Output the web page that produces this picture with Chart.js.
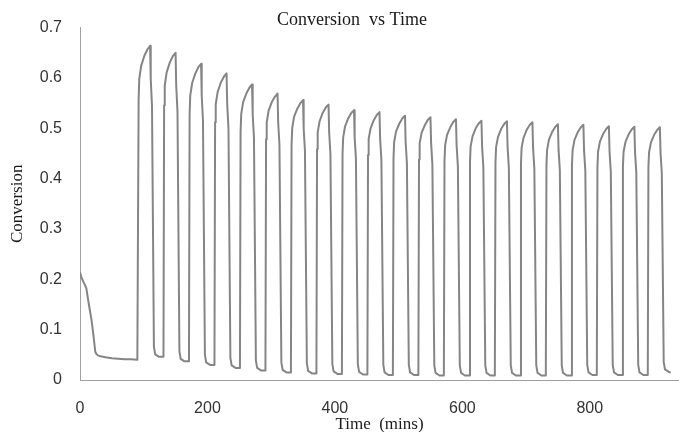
<!DOCTYPE html>
<html>
<head>
<meta charset="utf-8">
<title>Conversion vs Time</title>
<script src="https://cdn.jsdelivr.net/npm/chart.js@4.4.1/dist/chart.umd.min.js"></script>
<style>
  html, body { margin: 0; padding: 0; background: #fff; }
  #wrap { width: 679px; height: 432px; }
</style>
</head>
<body>
<div id="wrap"><canvas id="chart" width="679" height="432"></canvas></div>
<script>
// values
const chartTitle = 'Conversion  vs Time';
const xTitle = 'Time  (mins)';
const yTitle = 'Conversion';

const xTickLabels = ['0', '200', '400', '600', '800'];
const yTickLabels = ['0', '0.1', '0.2', '0.3', '0.4', '0.5', '0.6', '0.7'];

const timeMins = [
  0, 2, 5, 8, 10, 12, 15, 18, 21, 24, 26, 28, 32, 40, 50, 60, 70, 80, 90,
  91, 92, 93, 96, 101, 106, 110, 111, 113, 116, 118, 124,
  131, 132, 133, 136, 141, 146, 150, 151, 153, 156, 158, 164,
  171, 172, 173, 176, 181, 186, 190, 191, 193, 196, 198, 204,
  211, 212, 213, 216, 221, 226, 230, 231, 233, 236, 238, 244,
  251, 252, 253, 256, 261, 266, 270, 271, 273, 276, 278, 284,
  291, 292, 293, 296, 301, 306, 310, 311, 313, 316, 318, 324,
  331, 332, 333, 336, 341, 346, 350, 351, 353, 356, 358, 364,
  371, 372, 373, 376, 381, 386, 390, 391, 393, 396, 398, 404,
  411, 412, 413, 416, 421, 426, 430, 431, 433, 436, 438, 444,
  451, 452, 453, 456, 461, 466, 470, 471, 473, 476, 478, 484,
  491, 492, 493, 496, 501, 506, 510, 511, 513, 516, 518, 524,
  531, 532, 533, 536, 541, 546, 550, 551, 553, 556, 558, 564,
  571, 572, 573, 576, 581, 586, 590, 591, 593, 596, 598, 604,
  611, 612, 613, 616, 621, 626, 630, 631, 633, 636, 638, 644,
  651, 652, 653, 656, 661, 666, 670, 671, 673, 676, 678, 684,
  691, 692, 693, 696, 701, 706, 710, 711, 713, 716, 718, 724,
  731, 732, 733, 736, 741, 746, 750, 751, 753, 756, 758, 764,
  771, 772, 773, 776, 781, 786, 790, 791, 793, 796, 798, 804,
  811, 812, 813, 816, 821, 826, 830, 831, 833, 836, 838, 844,
  851, 852, 853, 856, 861, 866, 870, 871, 873, 876, 878, 884,
  891, 892, 893, 896, 901, 906, 910, 911, 913, 916, 918, 924, 927
];

const conversion = [
  0.214, 0.205, 0.196, 0.188, 0.182, 0.165, 0.142, 0.120, 0.090, 0.056, 0.051, 0.049, 0.047, 0.045, 0.043, 0.042, 0.041, 0.041, 0.040,
  0.040, 0.558, 0.598, 0.624, 0.644, 0.657, 0.664, 0.598, 0.544, 0.066, 0.051, 0.046,
  0.046, 0.546, 0.585, 0.611, 0.631, 0.644, 0.650, 0.585, 0.533, 0.057, 0.042, 0.037,
  0.037, 0.528, 0.565, 0.590, 0.609, 0.622, 0.628, 0.565, 0.515, 0.050, 0.035, 0.030,
  0.030, 0.512, 0.548, 0.572, 0.591, 0.603, 0.609, 0.548, 0.499, 0.044, 0.029, 0.024,
  0.024, 0.493, 0.528, 0.552, 0.569, 0.581, 0.587, 0.528, 0.481, 0.039, 0.024, 0.019,
  0.019, 0.478, 0.512, 0.535, 0.552, 0.563, 0.569, 0.512, 0.467, 0.035, 0.020, 0.015,
  0.015, 0.467, 0.500, 0.523, 0.539, 0.550, 0.556, 0.500, 0.456, 0.033, 0.018, 0.013,
  0.013, 0.459, 0.492, 0.514, 0.531, 0.542, 0.547, 0.492, 0.449, 0.032, 0.017, 0.012,
  0.012, 0.450, 0.482, 0.504, 0.520, 0.531, 0.536, 0.482, 0.440, 0.031, 0.016, 0.011,
  0.011, 0.447, 0.479, 0.500, 0.516, 0.527, 0.532, 0.479, 0.436, 0.030, 0.015, 0.010,
  0.010, 0.441, 0.473, 0.494, 0.509, 0.520, 0.525, 0.473, 0.431, 0.030, 0.015, 0.010,
  0.010, 0.438, 0.470, 0.491, 0.506, 0.517, 0.522, 0.470, 0.428, 0.029, 0.014, 0.009,
  0.009, 0.435, 0.466, 0.487, 0.502, 0.513, 0.518, 0.466, 0.425, 0.029, 0.014, 0.009,
  0.009, 0.433, 0.464, 0.484, 0.500, 0.510, 0.515, 0.464, 0.422, 0.029, 0.014, 0.009,
  0.009, 0.432, 0.463, 0.483, 0.499, 0.509, 0.514, 0.463, 0.421, 0.029, 0.014, 0.009,
  0.009, 0.430, 0.461, 0.481, 0.497, 0.507, 0.512, 0.461, 0.420, 0.029, 0.014, 0.009,
  0.009, 0.427, 0.457, 0.478, 0.493, 0.503, 0.508, 0.457, 0.417, 0.029, 0.014, 0.009,
  0.009, 0.426, 0.456, 0.477, 0.492, 0.502, 0.507, 0.456, 0.416, 0.030, 0.015, 0.010,
  0.010, 0.423, 0.454, 0.474, 0.489, 0.499, 0.504, 0.454, 0.413, 0.030, 0.015, 0.010,
  0.010, 0.423, 0.453, 0.473, 0.488, 0.498, 0.503, 0.453, 0.412, 0.030, 0.015, 0.010,
  0.010, 0.422, 0.452, 0.472, 0.487, 0.497, 0.502, 0.452, 0.412, 0.036, 0.021, 0.016, 0.015
];

const points = timeMins.map((t, i) => ({ x: t, y: conversion[i] }));

const serif = '"Liberation Serif", "Times New Roman", serif';
const sans = '"Liberation Sans", Arial, sans-serif';

// title sits a bit right of centre, over the top of the plot, like the original
const titlePlugin = {
  id: 'plotTitle',
  afterDraw(chart) {
    const ctx = chart.ctx;
    ctx.save();
    ctx.font = '18px ' + serif;
    ctx.fillStyle = '#1a1a1a';
    ctx.textAlign = 'center';
    ctx.textBaseline = 'middle';
    ctx.fillText(chartTitle, 352, 20);
    ctx.restore();
  }
};

new Chart(document.getElementById('chart'), {
  type: 'line',
  data: {
    datasets: [{
      label: yTitle,
      data: points,
      borderColor: '#858585',
      borderWidth: 2,
      borderJoinStyle: 'round',
      pointRadius: 0,
      tension: 0,
      fill: false
    }]
  },
  options: {
    responsive: false,
    animation: false,
    layout: { padding: { top: 25, right: 0, bottom: 0, left: 0 } },
    plugins: {
      legend: { display: false },
      title: { display: false },
      tooltip: { enabled: false }
    },
    scales: {
      x: {
        type: 'linear',
        min: 0,
        max: 940,
        grid: { display: false, drawTicks: false },
        border: { display: true, color: '#a0a0a0', width: 1 },
        ticks: {
          stepSize: 200,
          includeBounds: false,
          padding: 19,
          maxRotation: 0,
          color: '#333',
          font: { family: sans, size: 16 },
          callback: (v) => xTickLabels[Math.round(v / 200)]
        },
        title: {
          display: true,
          text: xTitle,
          color: '#1a1a1a',
          font: { family: serif, size: 17 },
          padding: { top: 0, bottom: -3 }
        },
        afterFit: (scale) => { scale.height = 52; }
      },
      y: {
        min: 0,
        max: 0.7,
        grid: { display: false, drawTicks: false },
        border: { display: true, color: '#a0a0a0', width: 1 },
        ticks: {
          stepSize: 0.1,
          padding: 18,
          color: '#333',
          font: { family: sans, size: 16 },
          callback: (v) => yTickLabels[Math.round(v * 10)]
        },
        title: {
          display: true,
          text: yTitle,
          color: '#1a1a1a',
          font: { family: serif, size: 17 },
          padding: { top: 7, bottom: 0 }
        },
        afterFit: (scale) => { scale.width = 80; }
      }
    }
  },
  plugins: [titlePlugin]
});
</script>
</body>
</html>
